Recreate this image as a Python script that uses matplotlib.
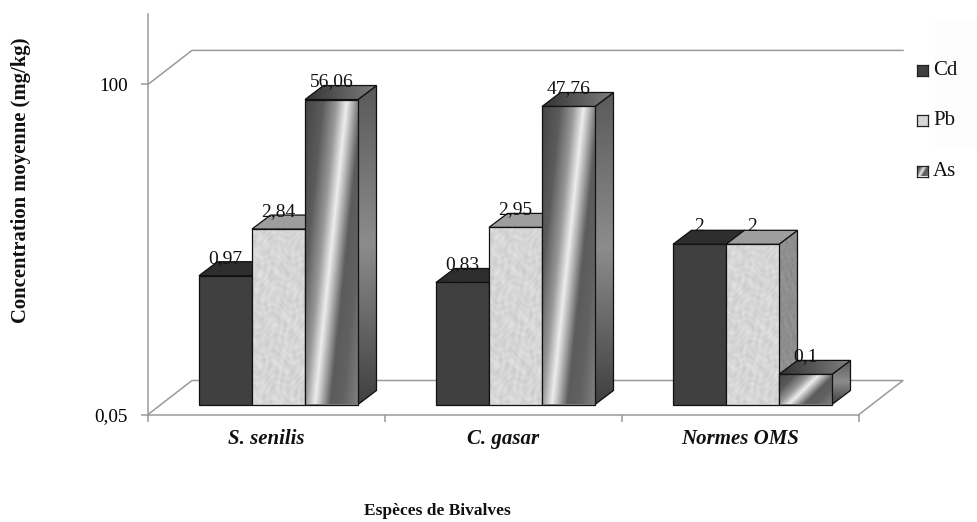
import numpy as np
import matplotlib as mpl
mpl.use('Agg')
mpl.rcParams['font.family'] = 'Liberation Serif'
import matplotlib.pyplot as plt
from matplotlib.patches import Polygon, Rectangle
from matplotlib.transforms import IdentityTransform

# data
species = ['S. senilis', 'C. gasar', 'Normes OMS']
metals = ['Cd', 'Pb', 'As']
cd = [0.97, 0.83, 2]
pb = [2.84, 2.95, 2]
arsenic = [56.06, 47.76, 0.1]
y_ticks = [0.05, 100]
y_ticklabels = ['0,05', '100']

W, H = 978, 522
GREY = '#9a9a9a'
WALL = (44, 34)     # depth of the floor, pixels
PLANE = (12, 10)    # where the bars stand on the floor
DEPTH = (18.5, 14)  # depth of a bar
bar_w = 53 / 237.

fig = plt.figure(figsize=(W / 100., H / 100.), dpi=100)
fig.patch.set_facecolor('white')
fig.add_artist(Rectangle((935, H - 150), 43, 132, transform=IdentityTransform(),
                         fc='#fdfdfd', ec='none'))
ax = fig.add_axes([148. / W, (H - 414.5) / H, 711. / W, 400.5 / H])
ax.patch.set_alpha(0)
ax.set_autoscale_on(False)
ax.set_yscale('log')
ax.set_xlim(-0.5, 2.5)
ax.set_ylim(0.05, 0.05 * 10 ** (400.5 / 100.))
ax.spines['top'].set_visible(False)
ax.spines['right'].set_visible(False)
for s in ['left', 'bottom']:
    ax.spines[s].set_color(GREY)
    ax.spines[s].set_linewidth(1.1)
ax.set_yticks(y_ticks)
ax.set_yticklabels(y_ticklabels, fontsize=13.8)
ax.yaxis.set_minor_locator(mpl.ticker.NullLocator())
ax.set_xticks([-0.5, 0.5, 1.5, 2.5])
ax.set_xticklabels([])
ax.tick_params(axis='both', color=GREY, width=1.1, length=5)
ax.tick_params(axis='y', pad=9.5)


def disp(x, v, dx=0, dy=0):
    p = ax.transData.transform((x, v))
    return (p[0] + dx, p[1] + dy)


# back wall and floor
xa, xb = -0.5, 2.5
ymin, ytop = y_ticks
line = [disp(xa, ytop), disp(xa, ytop, *WALL), disp(xb, ytop, *WALL)]
ax.add_line(plt.Line2D(*zip(*line), transform=IdentityTransform(), color=GREY, lw=1.1, clip_on=False, zorder=1))
line = [disp(xa, ymin), disp(xa, ymin, *WALL), disp(xb, ymin, *WALL), disp(xb, ymin)]
ax.add_line(plt.Line2D(*zip(*line), transform=IdentityTransform(), color=GREY, lw=1.1, clip_on=False, zorder=1))


def chrome(u, v):
    # slanted bright streak of the As bars
    s = u - 0.6 * v - 0.2
    return np.interp(s, [-0.8, -0.45, -0.2, -0.01, 0.07, 0.28, 0.5, 0.8],
                     [0.27, 0.36, 0.6, 0.93, 0.78, 0.36, 0.38, 0.5])


def mottled(u, v, base):
    # soft blotches, the stone-like fill of the Pb bars
    return base + 0.028 * np.sin(19 * u + 5 * np.sin(23 * v)) * np.sin(61 * v + 4 * np.sin(11 * u)) \
        + 0.02 * np.sin(31 * u + 17 * v) * np.sin(43 * v - 13 * u)


def fill_face(pts, func, z):
    pts = np.array(pts)
    x0, y0 = pts.min(axis=0)
    x1, y1 = pts.max(axis=0)
    u, v = np.meshgrid(np.linspace(0, 1, 300), np.linspace(0, 1, 300))
    arr = func(u, v)
    # plain fill below the image, so no white seam shows along the edges
    under = str(float(np.clip(arr.mean(), 0, 1)))
    ax.add_patch(Polygon(pts, closed=True, transform=IdentityTransform(), fc=under, ec='none',
                         zorder=z - 0.1, clip_on=False))
    im = ax.imshow(arr, extent=(x0, x1, y0, y1), origin='lower', aspect='auto',
                   transform=IdentityTransform(), cmap='gray', vmin=0, vmax=1,
                   interpolation='bilinear', zorder=z)
    edge = Polygon(pts, closed=True, transform=IdentityTransform(), fc='none', ec='#111111',
                   lw=0.9, zorder=z + 0.1, clip_on=False)
    ax.add_patch(edge)
    im.set_clip_path(edge)


styles = {
    'Cd': {'front': lambda u, v: 0.25 + 0 * u, 'top': lambda u, v: 0.18 + 0 * u, 'side': lambda u, v: 0.2 + 0 * u},
    'Pb': {'front': lambda u, v: mottled(u, v, 0.84), 'top': lambda u, v: 0.62 + 0 * u,
           'side': lambda u, v: mottled(u, v, 0.56)},
    'As': {'front': chrome, 'top': lambda u, v: 0.2 + 0.3 * u,
           'side': lambda u, v: np.interp(v, [0, 0.5, 1], [0.25, 0.55, 0.35])},
}

# bars, drawn left to right so nearer faces cover the others
z = 3
for i, name in enumerate(species):
    for j, (metal, vals) in enumerate(zip(metals, [cd, pb, arsenic])):
        val = vals[i]
        left = i - 1.5 * bar_w + j * bar_w
        right = left + bar_w
        st = styles[metal]
        fl = disp(left, ymin, PLANE[0], PLANE[1])
        fr = disp(right, ymin, PLANE[0], PLANE[1])
        tl = disp(left, val, PLANE[0], PLANE[1])
        tr = disp(right, val, PLANE[0], PLANE[1])
        d = np.array(DEPTH)
        fill_face([tr, np.add(tr, d), np.add(fr, d), fr], st['side'], z)
        fill_face([tl, tr, np.add(tr, d), np.add(tl, d)], st['top'], z + 1)
        fill_face([fl, fr, tr, tl], st['front'], z + 2)
        z += 3
        ax.text(tl[0] + 26.5, tl[1] + 17.5, ('%g' % val).replace('.', ','),
                transform=IdentityTransform(), ha='center', va='center', fontsize=14,
                color='#111111', zorder=40, clip_on=False)
    ax.text(i, -0.061, name, transform=ax.get_xaxis_transform(), ha='center', va='center',
            fontsize=15, fontweight='bold', fontstyle='italic', color='#111111')

fig.text(437. / W, 1 - 511. / H, 'Espèces de Bivalves', ha='center', va='center',
         fontsize=12.5, fontweight='bold', color='#111111')
fig.text(21. / W, 1 - 180. / H, 'Concentration moyenne (mg/kg)', rotation=90, ha='center', va='center',
         fontsize=14.9, fontweight='bold', color='#111111')

# legend
for metal, yc in zip(metals, [70.5, 120.5, 171]):
    lax = fig.add_axes([917.5 / W, (H - yc - 5.5) / H, 11. / W, 11. / H])
    u, v = np.meshgrid(np.linspace(0, 1, 40), np.linspace(0, 1, 40))
    lax.imshow(styles[metal]['front'](u, v), extent=(0, 1, 0, 1), origin='lower', aspect='auto',
               cmap='gray', vmin=0, vmax=1)
    lax.set_xticks([])
    lax.set_yticks([])
    for s in lax.spines.values():
        s.set_color('#222222')
        s.set_linewidth(0.9)
    fig.text(933. / W, 1 - yc / H, metal, ha='left', va='center', fontsize=15, color='#111111')

plt.savefig('out.png', dpi=100)
